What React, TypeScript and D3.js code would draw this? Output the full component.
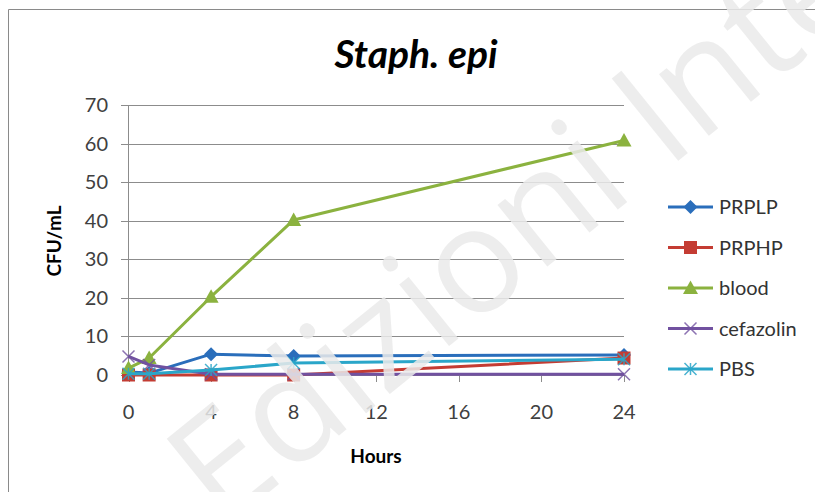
import React from "react";
import * as d3 from "d3";

const hours = [0, 1, 4, 8, 24];
const seriesNames = ["PRPLP", "PRPHP", "blood", "cefazolin", "PBS"];
const prplp = [0.8, 0.5, 5.4, 4.9, 5.2];
const prphp = [0, 0, 0, 0, 4.4];
const blood = [1.8, 4.4, 20.3, 40.2, 60.8];
const cefazolin = [4.8, 2.6, 0.2, 0.2, 0.2];
const pbs = [0.3, 0.3, 1.3, 3.1, 4.1];
const xTicks = [0, 4, 8, 12, 16, 20, 24];
const yTicks = [0, 10, 20, 30, 40, 50, 60, 70];

const colors = ["#2A6EBB", "#C43C33", "#8BB23F", "#7151A0", "#2AA6C9"];
const markers = ["diamond", "square", "triangle", "x", "star"];
const allValues = [prplp, prphp, blood, cefazolin, pbs];

const FONT = "Lato, 'Open Sans', sans-serif";

function Marker({ type, x, y, color }: { type: string; x: number; y: number; color: string }) {
  if (type === "diamond") {
    const s = 7;
    return <path d={`M${x},${y - s}L${x + s},${y}L${x},${y + s}L${x - s},${y}Z`} fill={color} />;
  }
  if (type === "square") {
    const s = 6.5;
    return <rect x={x - s} y={y - s} width={2 * s} height={2 * s} fill={color} />;
  }
  if (type === "triangle") {
    const s = 7.5;
    return <path d={`M${x},${y - s}L${x + s},${y + s * 0.8}L${x - s},${y + s * 0.8}Z`} fill={color} />;
  }
  if (type === "x") {
    const s = 6;
    return (
      <path
        d={`M${x - s},${y - s}L${x + s},${y + s}M${x - s},${y + s}L${x + s},${y - s}`}
        stroke={color}
        strokeWidth={1.5}
        opacity={0.8}
      />
    );
  }
  const s = 6;
  return (
    <path
      d={`M${x - s},${y - s}L${x + s},${y + s}M${x - s},${y + s}L${x + s},${y - s}M${x},${y - s}L${x},${y + s}`}
      stroke={color}
      strokeWidth={1.5}
      opacity={0.85}
    />
  );
}

export default function App() {
  const W = 815;
  const H = 492;
  const x = d3.scaleLinear().domain([0, 24]).range([128.5, 624]);
  const y = d3.scaleLinear().domain([0, 70]).range([375, 105]);
  const line = d3
    .line<[number, number]>()
    .x((d) => x(d[0]))
    .y((d) => y(d[1]));

  return (
    <svg
      width={W}
      height={H}
      style={{ position: "absolute", left: 0, top: 0, background: "#fff" }}
    >
      <rect x={0} y={0} width={W} height={H} fill="#fff" />
      <path d={`M8.5,${H}V9.5H${W}`} fill="none" stroke="#8a8a8a" strokeWidth={1} />
      <text
        x={416}
        y={68}
        textAnchor="middle"
        fontFamily={FONT}
        fontWeight="bold"
        fontStyle="italic"
        fontSize={39}
        fill="#000"
      >
        Staph. epi
      </text>
      {yTicks.map((t) => (
        <g key={"y" + t}>
          <line x1={121} x2={624} y1={Math.round(y(t)) + 0.5} y2={Math.round(y(t)) + 0.5} stroke="#8c8c8c" strokeWidth={1} />
          <text x={108} y={y(t) + 7} textAnchor="end" fontFamily={FONT} fontSize={20} fill="#404040">
            {t}
          </text>
        </g>
      ))}
      <line x1={128.5} x2={128.5} y1={y(70)} y2={y(0)} stroke="#8c8c8c" strokeWidth={1} />
      {xTicks.map((t) => (
        <g key={"x" + t}>
          <line x1={Math.round(x(t)) + 0.5} x2={Math.round(x(t)) + 0.5} y1={375} y2={382} stroke="#8c8c8c" strokeWidth={1} />
          <text x={x(t)} y={419} textAnchor="middle" fontFamily={FONT} fontSize={20} fill="#404040">
            {t}
          </text>
        </g>
      ))}
      <text
        transform={`translate(61,241) rotate(-90)`}
        textAnchor="middle"
        fontFamily={FONT}
        fontWeight="bold"
        fontSize={19}
        fill="#000"
      >
        CFU/mL
      </text>
      <text x={376} y={463} textAnchor="middle" fontFamily={FONT} fontWeight="bold" fontSize={19} fill="#000">
        Hours
      </text>
      {allValues.map((vals, i) => {
        const pts = hours.map((h, j) => [h, vals[j]] as [number, number]);
        return (
          <g key={seriesNames[i]}>
            <path d={line(pts) || ""} fill="none" stroke={colors[i]} strokeWidth={3} strokeLinejoin="round" />
            {pts.map((p, j) => (
              <Marker key={j} type={markers[i]} x={x(p[0])} y={y(p[1])} color={colors[i]} />
            ))}
          </g>
        );
      })}
      {seriesNames.map((n, i) => {
        const ly = 207 + i * 40.5;
        return (
          <g key={"l" + n}>
            <line x1={668} x2={713} y1={ly} y2={ly} stroke={colors[i]} strokeWidth={3} />
            <Marker type={markers[i]} x={690.5} y={ly} color={colors[i]} />
            <text x={719} y={ly + 7} fontFamily={FONT} fontSize={20} fill="#333">
              {n}
            </text>
          </g>
        );
      })}
      <text
        transform="translate(222,530) rotate(-39)"
        fontFamily="'Open Sans', sans-serif"
        fontSize={148}
        fill="#ebebeb"
        opacity={0.85}
      >
        Edizioni Internazionali
      </text>
    </svg>
  );
}
